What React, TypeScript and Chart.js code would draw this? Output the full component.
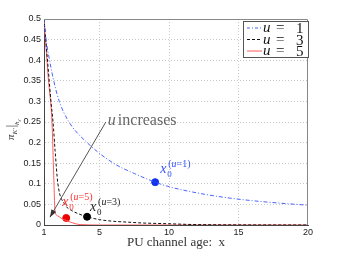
import React, { useEffect, useRef } from "react";
import { Chart, registerables } from "chart.js";
Chart.register(...registerables);

// u = 1 (blue, dash-dot)
const u1X = [1, 1.15, 1.4, 1.7, 2.1, 2.8, 4.1, 6, 7.5, 9, 10, 12, 14, 16, 18, 20];
const u1Y = [0.5, 0.45, 0.4, 0.35, 0.3, 0.25, 0.2, 0.15, 0.125, 0.104, 0.093, 0.078, 0.067, 0.059, 0.053, 0.048];
// u = 3 (black, dashed)
const u3X = [1, 1.3, 1.5, 1.65, 1.8, 2.0, 2.5, 3, 3.5, 4.1, 5, 6, 7, 8, 10, 12, 20];
const u3Y = [0.5, 0.38, 0.3, 0.25, 0.18, 0.1, 0.05, 0.035, 0.027, 0.02, 0.013, 0.009, 0.007, 0.005, 0.003, 0.001, 0];
// u = 5 (red, solid)
const u5X = [1, 1.3, 1.58, 1.7, 1.8, 2.0, 2.3, 2.6, 2.9, 3.6, 5, 20];
const u5Y = [0.5, 0.36, 0.245, 0.12, 0.032, 0.022, 0.015, 0.011, 0.007, 0.001, 0, 0];
// x0 markers (u=1, u=3, u=5)
const x0Labels = ["(u=1)", "(u=3)", "(u=5)"];
const x0X = [9, 4.1, 2.6];
const x0Y = [0.104, 0.02, 0.017];
const xTicks = [1, 5, 10, 15, 20];
const yTicks = [0, 0.05, 0.1, 0.15, 0.2, 0.25, 0.3, 0.35, 0.4, 0.45, 0.5];
const legendLabels = ["1", "3", "5"];

const BLUE = "#4a62ff";
const BLACK = "#111111";
const RED = "#ff5a5a";

const pts = (xs: number[], ys: number[]) => xs.map((x, i) => ({ x, y: ys[i] }));

const overlay = {
  id: "overlay",
  afterDraw(chart: any) {
    const ctx = chart.ctx as CanvasRenderingContext2D;
    const a = chart.chartArea;
    const xs = chart.scales.x;
    const ys = chart.scales.y;
    ctx.save();
    // top/right frame
    ctx.strokeStyle = "#888";
    ctx.lineWidth = 1;
    ctx.beginPath();
    ctx.moveTo(a.left, a.top + 0.5);
    ctx.lineTo(a.right - 0.5, a.top + 0.5);
    ctx.lineTo(a.right - 0.5, a.bottom);
    ctx.stroke();

    // y axis title
    ctx.save();
    ctx.translate(14, 128);
    ctx.rotate(-Math.PI / 2);
    ctx.fillStyle = "#333";
    ctx.textBaseline = "alphabetic";
    let cx = -12;
    ctx.font = "italic 11px 'Liberation Serif'";
    ctx.fillText("π", cx, 0);
    cx += ctx.measureText("π").width;
    ctx.font = "italic 7px 'Liberation Serif'";
    ctx.fillText("K′", cx, 3);
    cx += ctx.measureText("K′").width + 1;
    ctx.font = "12px 'Liberation Serif'";
    ctx.fillText("|", cx, 1);
    cx += ctx.measureText("|").width;
    ctx.font = "italic 7px 'Liberation Serif'";
    ctx.fillText("h", cx, 5);
    cx += ctx.measureText("h").width;
    ctx.font = "italic 5px 'Liberation Serif'";
    ctx.fillText("t′", cx, 7);
    ctx.restore();

    // x axis title
    ctx.font = "13px 'Liberation Serif'";
    ctx.fillStyle = "#333";
    ctx.textAlign = "center";
    ctx.textBaseline = "alphabetic";
    ctx.fillText("PU channel age:  x", 176, 246);
    ctx.textAlign = "left";

    // legend
    const lx = 243, ly = 21, lw = 65, lh = 36;
    ctx.fillStyle = "#fff";
    ctx.fillRect(lx, ly, lw, lh);
    ctx.strokeStyle = "#555";
    ctx.strokeRect(lx + 0.5, ly + 0.5, lw, lh);
    const cols = [BLUE, BLACK, RED];
    const dashes = [[3, 2, 1, 2], [3, 2], []];
    for (let i = 0; i < 3; i++) {
      const yy = ly + 7 + i * 11.5;
      ctx.strokeStyle = cols[i];
      ctx.setLineDash(dashes[i]);
      ctx.beginPath();
      ctx.moveTo(lx + 4, yy);
      ctx.lineTo(lx + 19, yy);
      ctx.stroke();
      ctx.setLineDash([]);
      ctx.fillStyle = "#111";
      ctx.font = "italic 15px 'Liberation Serif'";
      ctx.fillText("u", lx + 20, yy + 4);
      ctx.font = "15px 'Liberation Serif'";
      ctx.fillText("=", lx + 33, yy + 4);
      ctx.fillText(legendLabels[i], lx + 53, yy + 5);
    }

    // arrow "u increases"
    const tipX = xs.getPixelForValue(1.43);
    const tipY = ys.getPixelForValue(0.019);
    const sX = xs.getPixelForValue(5.45);
    const sY = ys.getPixelForValue(0.25);
    ctx.strokeStyle = "#555";
    ctx.lineWidth = 1;
    ctx.beginPath();
    ctx.moveTo(sX, sY);
    ctx.lineTo(tipX, tipY);
    ctx.stroke();
    const ang = Math.atan2(tipY - sY, tipX - sX);
    ctx.fillStyle = "#333";
    ctx.beginPath();
    ctx.moveTo(tipX, tipY);
    ctx.lineTo(tipX - 8 * Math.cos(ang - 0.35), tipY - 8 * Math.sin(ang - 0.35));
    ctx.lineTo(tipX - 8 * Math.cos(ang + 0.35), tipY - 8 * Math.sin(ang + 0.35));
    ctx.closePath();
    ctx.fill();
    ctx.fillStyle = "#666";
    ctx.font = "italic 16px 'Liberation Serif'";
    ctx.fillText("u", sX + 2, sY + 3);
    ctx.font = "16px 'Liberation Serif'";
    ctx.fillText("increases", sX + 12, sY + 3);

    // x0 labels
    const sup = (i: number, dx: number, dy: number, col: string) => {
      const px = xs.getPixelForValue(x0X[i]) + dx;
      const py = ys.getPixelForValue(x0Y[i]) + dy;
      ctx.fillStyle = col;
      ctx.font = "italic 14px 'Liberation Serif'";
      ctx.fillText("x", px, py);
      ctx.font = "9px 'Liberation Serif'";
      ctx.fillText("0", px + 7, py + 4);
      let cx2 = px + 8;
      const s = x0Labels[i];
      ctx.font = "10px 'Liberation Serif'";
      ctx.fillText("(", cx2, py - 6);
      cx2 += ctx.measureText("(").width;
      ctx.font = "italic 10px 'Liberation Serif'";
      ctx.fillText("u", cx2, py - 6);
      cx2 += ctx.measureText("u").width;
      ctx.font = "10px 'Liberation Serif'";
      ctx.fillText(s.slice(2), cx2, py - 6);
    };
    sup(0, 5, -9, "#3355ff");
    sup(1, 3, -6, "#222");
    sup(2, -4, -12, "#ff3333");
    ctx.restore();
  },
};

export default function App() {
  const ref = useRef<HTMLCanvasElement>(null);
  useEffect(() => {
    const chart = new Chart(ref.current!, {
      type: "line",
      data: {
        datasets: [
          { data: pts(u1X, u1Y), borderColor: BLUE, borderWidth: 1, borderDash: [4, 2, 1, 2], pointRadius: 0, cubicInterpolationMode: "monotone" },
          { data: pts(u3X, u3Y), borderColor: BLACK, borderWidth: 1, borderDash: [3, 2], pointRadius: 0, cubicInterpolationMode: "monotone" },
          { data: pts(u5X, u5Y), borderColor: RED, borderWidth: 1, pointRadius: 0, cubicInterpolationMode: "monotone" },
          { data: [{ x: x0X[0], y: x0Y[0] }], showLine: false, pointRadius: 3.5, pointBackgroundColor: "#1133ee", pointBorderColor: "#1133ee" },
          { data: [{ x: x0X[1], y: x0Y[1] }], showLine: false, pointRadius: 3.5, pointBackgroundColor: "#000", pointBorderColor: "#000" },
          { data: [{ x: x0X[2], y: x0Y[2] }], showLine: false, pointRadius: 3.5, pointBackgroundColor: "#ee0000", pointBorderColor: "#ee0000" },
        ],
      },
      options: {
        animation: false,
        responsive: false,
        layout: { padding: { left: 0, top: 19, right: 33, bottom: 0 } },
        plugins: { legend: { display: false }, tooltip: { enabled: false } },
        scales: {
          x: {
            type: "linear",
            min: 1,
            max: 20,
            afterBuildTicks: (s: any) => { s.ticks = xTicks.map((v) => ({ value: v })); },
            afterFit: (s: any) => { s.height = 28; },
            ticks: { font: { family: "'Liberation Sans'", size: 9 }, color: "#222", padding: 2, maxRotation: 0, autoSkip: false },
            grid: { color: (c: any) => (c.tick && (c.tick.value === 1 || c.tick.value === 20) ? "rgba(0,0,0,0)" : "#c8c8c8"), drawTicks: false },
            border: { color: "#444", dash: [1, 2] },
          },
          y: {
            min: 0,
            max: 0.5,
            afterBuildTicks: (s: any) => { s.ticks = yTicks.map((v) => ({ value: v })); },
            afterFit: (s: any) => { s.width = 44; },
            ticks: { font: { family: "'Liberation Sans'", size: 9 }, color: "#222", padding: 3, callback: (v: any) => String(+(+v).toFixed(2)) },
            grid: { color: (c: any) => (c.tick && (c.tick.value === 0 || c.tick.value === 0.5) ? "rgba(0,0,0,0)" : "#c8c8c8"), drawTicks: false },
            border: { color: "#444", dash: [1, 2] },
          },
        },
      },
      plugins: [overlay],
    } as any);
    return () => chart.destroy();
  }, []);
  return (
    <div style={{ position: "fixed", left: 0, top: 0, width: 341, height: 253, background: "#fff" }}>
      <canvas ref={ref} width={341} height={253} style={{ display: "block", width: 341, height: 253 }} />
    </div>
  );
}
